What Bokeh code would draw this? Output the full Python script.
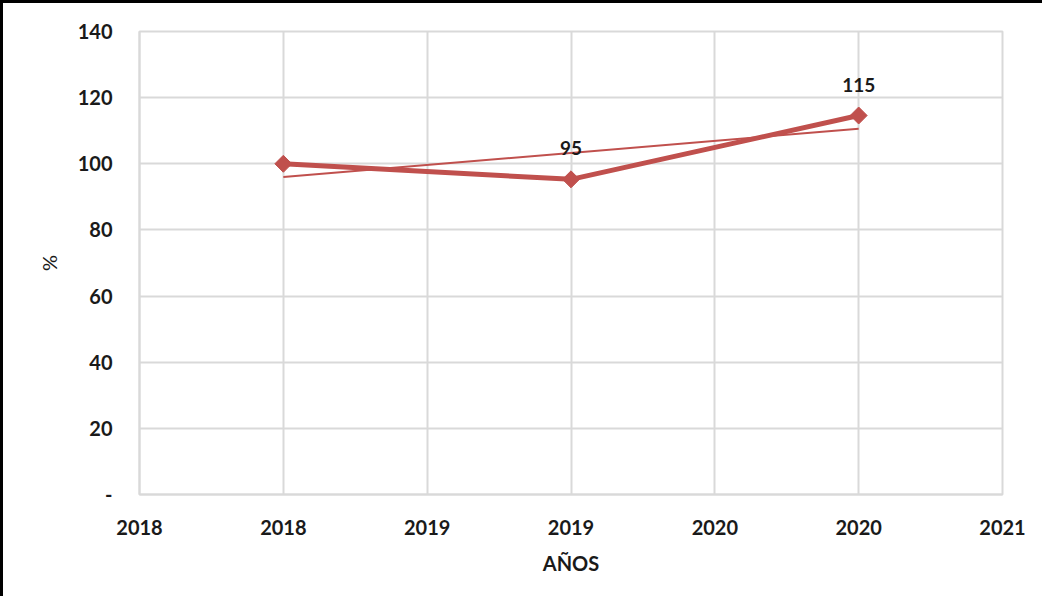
import numpy as np
from bokeh.plotting import figure
from bokeh.models import Range1d, FixedTicker, ColumnDataSource
from bokeh.core.properties import value
from bokeh.embed import file_html
from bokeh.resources import INLINE

# data
years = [2018, 2019, 2020]
pct = [100.0, 95.3, 114.6]
label_years = [2019, 2020]
label_vals = [95.3, 114.6]
label_texts = ["95", "115"]

x_tick_values = [2017.5, 2018, 2018.5, 2019, 2019.5, 2020, 2020.5]
x_tick_labels = ["2018", "2018", "2019", "2019", "2020", "2020", "2021"]
y_tick_values = [0, 20, 40, 60, 80, 100, 120, 140]
y_tick_labels = ["-", "20", "40", "60", "80", "100", "120", "140"]

RED = "#c0504d"
GRID = "#d9d9d9"
FONT = "Lato"

p = figure(width=1042, height=596, output_backend="svg", toolbar_location=None,
           x_range=Range1d(2017.5, 2020.5), y_range=Range1d(0, 140),
           min_border_left=136, min_border_right=43, min_border_top=28, min_border_bottom=105)
p.styles = {"border-top": "3px solid black", "border-left": "3px solid black"}

p.outline_line_color = GRID
p.outline_line_width = 2

p.xaxis.ticker = FixedTicker(ticks=x_tick_values)
p.xaxis.major_label_overrides = {v: l for v, l in zip(x_tick_values, x_tick_labels)}
p.yaxis.ticker = FixedTicker(ticks=y_tick_values)
p.yaxis.major_label_overrides = {v: l for v, l in zip(y_tick_values, y_tick_labels)}

for ax in (p.xaxis, p.yaxis):
    ax.axis_line_color = GRID
    ax.axis_line_width = 2
    ax.major_tick_line_color = None
    ax.minor_tick_line_color = None
    ax.major_label_text_font = FONT
    ax.major_label_text_font_style = "bold"
    ax.major_label_text_font_size = "20px"
    ax.major_label_text_color = "#1a1a1a"
    ax.axis_label_text_font = FONT
    ax.axis_label_text_color = "#1a1a1a"
    ax.axis_label_text_font_size = "20px"

p.xaxis.major_label_standoff = 19
p.yaxis.major_label_standoff = 21
p.xaxis.axis_label = "AÑOS"
p.xaxis.axis_label_text_font_style = "bold"
p.xaxis.axis_label_standoff = 13
p.yaxis.axis_label = "%"
p.yaxis.axis_label_text_font_style = "normal"
p.yaxis.axis_label_standoff = 14

p.xgrid.ticker = FixedTicker(ticks=x_tick_values)
p.ygrid.ticker = FixedTicker(ticks=y_tick_values)
p.xgrid.grid_line_color = GRID
p.ygrid.grid_line_color = GRID
p.xgrid.grid_line_width = 2
p.ygrid.grid_line_width = 2

# linear trend line (least squares fit of the series)
coef = np.polyfit(years, pct, 1)
trend = np.polyval(coef, years)
p.line([years[0], years[-1]], [trend[0], trend[-1]], line_color=RED, line_width=2)

src = ColumnDataSource(dict(x=years, y=pct))
p.line("x", "y", source=src, line_color=RED, line_width=5)
p.scatter("x", "y", source=src, marker="square", angle=np.pi / 4, size=12,
          fill_color=RED, line_color=RED)

lsrc = ColumnDataSource(dict(x=label_years, y=label_vals, t=label_texts))
p.text("x", "y", text="t", source=lsrc, text_align="center", text_baseline="middle",
       y_offset=-31, text_font=value(FONT), text_font_style="bold",
       text_font_size="19px", text_color="#1a1a1a")

open("out.html", "w").write(file_html(p, INLINE))
